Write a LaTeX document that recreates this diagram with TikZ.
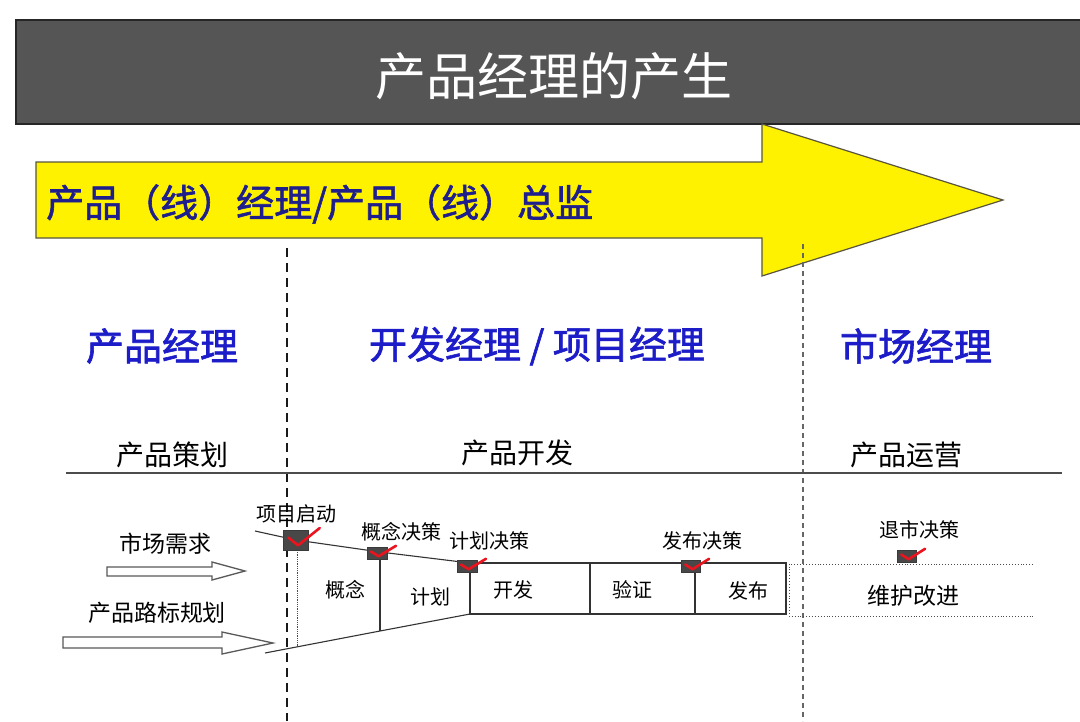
\documentclass[tikz,border=0pt]{standalone}
\usepackage{fontspec}
\setmainfont{Noto Sans CJK SC}
\newfontfamily\semib[FakeBold=1.6]{Noto Sans CJK SC}
\definecolor{titlegray}{RGB}{85,85,85}
\definecolor{headblue}{RGB}{28,28,200}
\definecolor{navy}{RGB}{30,30,140}
\definecolor{markgray}{RGB}{72,72,72}
\definecolor{checkred}{RGB}{235,20,30}
\newcommand\fs[1]{\fontsize{#1}{#1}\selectfont}
\newcommand\decmark[5]{%
  \node[markbox, minimum width=#4pt, minimum height=#5pt] (#1) at (#2,#3) {};
  \begin{scope}[shift={(#2,#3)}, xscale=#4, yscale=#5]
    \draw[checkline] (-0.3,-0.12) -- (0.08,0.27) -- (0.95,-0.6);
  \end{scope}}
\begin{document}
\begin{tikzpicture}[x=1pt,y=-1pt,
  heading/.style={text=headblue, font=\semib\fs{38}, inner sep=0pt},
  phase/.style={text=black, font=\fs{28}, inner sep=0pt},
  small/.style={text=black, font=\fs{20}, inner sep=0pt},
  mid/.style={text=black, font=\fs{23}, inner sep=0pt},
  markbox/.style={fill=markgray, draw=markgray!80!black, line width=0.6pt, inner sep=0pt},
  checkline/.style={draw=checkred, line width=2.6pt, line cap=round, line join=round},
  procline/.style={draw=black!80, line width=1.1pt},
  hollowarrow/.style={draw=black!65, line width=1.3pt, fill=white},
  dotline/.style={draw=black!70, line width=0.9pt, dotted},
]
\useasboundingbox (0,0) rectangle (1080,721);
\fill[white] (0,0) rectangle (1080,721);

% title bar
\draw[fill=titlegray, draw=black!85, line width=1.2pt] (16,20) rectangle (1090,124);
\node[text=white, font=\fs{51}, inner sep=0pt] (title) at (554,76) {产品经理的产生};

% yellow arrow
\draw[fill=yellow, draw=black!75!yellow, line width=1.2pt]
  (36,162) -- (762,162) -- (762,124) -- (1003,200) -- (762,276) -- (762,238) -- (36,238) -- cycle;
\node[anchor=west, text=navy, font=\semib\fs{38}, inner sep=0pt] (bigtext) at (46,204) {产品（线）经理/产品（线）总监};

% dashed separators
\coordinate (d1t) at (287,248); \coordinate (d1b) at (287,721);
\coordinate (d2t) at (803,244); \coordinate (d2b) at (803,721);
\draw[black!90, line width=2.6pt, dash pattern=on 9pt off 6pt] (d1t) -- (d1b);
\draw[black!60, line width=1.6pt, dash pattern=on 5pt off 4pt] (d2t) -- (d2b);

% headings
\node[heading] (h1) at (162,346) {产品经理};
\node[heading] (h2) at (537,346) {开发经理 / 项目经理};
\node[heading] (h3) at (916,346) {市场经理};

% phases
\node[phase] (ph1) at (172,455) {产品策划};
\node[phase] (ph2) at (517,453) {产品开发};
\node[phase] (ph3) at (906,455) {产品运营};
\coordinate (hl) at (66,473); \coordinate (hr) at (1062,473);
\draw[black!70, line width=1.3pt] (hl) -- (hr);

% left inputs
\node[mid] (in1) at (165,544) {市场需求};
\node[mid] (in2) at (157,613) {产品路标规划};
\draw[hollowarrow] (107,567) -- (212,567) -- (212,562) -- (245,571) -- (212,580) -- (212,576) -- (107,576) -- cycle;
\draw[hollowarrow] (63,637) -- (222,637) -- (222,632) -- (273,643) -- (222,654) -- (222,648) -- (63,648) -- cycle;

% process funnel
\coordinate (t0) at (255,531); \coordinate (t1) at (296,540);
\coordinate (t2) at (380,552); \coordinate (t3) at (470,563);
\coordinate (b0) at (265,653); \coordinate (b1) at (297,647);
\coordinate (b2) at (380,631); \coordinate (b3) at (470,614);
\draw[procline] (t0) -- (t1) -- (t2) -- (t3);
\draw[procline] (b0) -- (b2) -- (b3);
\draw[procline] (t2) -- (b2);
\draw[black!70, line width=0.8pt, densely dotted] (297,550) -- (b1);

% development boxes
\draw[procline] (470,563) rectangle (786,614);
\draw[procline] (590,563) -- (590,614);
\draw[procline] (695,563) -- (695,614);
\draw[dotline] (1033,564) -- (789,564) -- (789,616) -- (1033,616);

% box texts
\node[small] (s1) at (345,590) {概念};
\node[small] (s2) at (430,597) {计划};
\node[small] (s3) at (513,590) {开发};
\node[small] (s4) at (632,590) {验证};
\node[small] (s5) at (748,591) {发布};
\node[mid] (s6) at (913,596) {维护改进};

% decision labels
\node[small] (l1) at (296,514) {项目启动};
\node[small] (l2) at (401,532) {概念决策};
\node[small] (l3) at (489,541) {计划决策};
\node[small] (l4) at (702,541) {发布决策};
\node[small] (l5) at (919,530) {退市决策};

% decision markers
\decmark{m1}{296}{540}{25}{20}
\decmark{m2}{377}{553}{20}{12}
\decmark{m3}{467}{566}{20}{12}
\decmark{m4}{691}{566}{19}{12}
\decmark{m5}{907}{556}{19}{12}
\end{tikzpicture}
\end{document}
